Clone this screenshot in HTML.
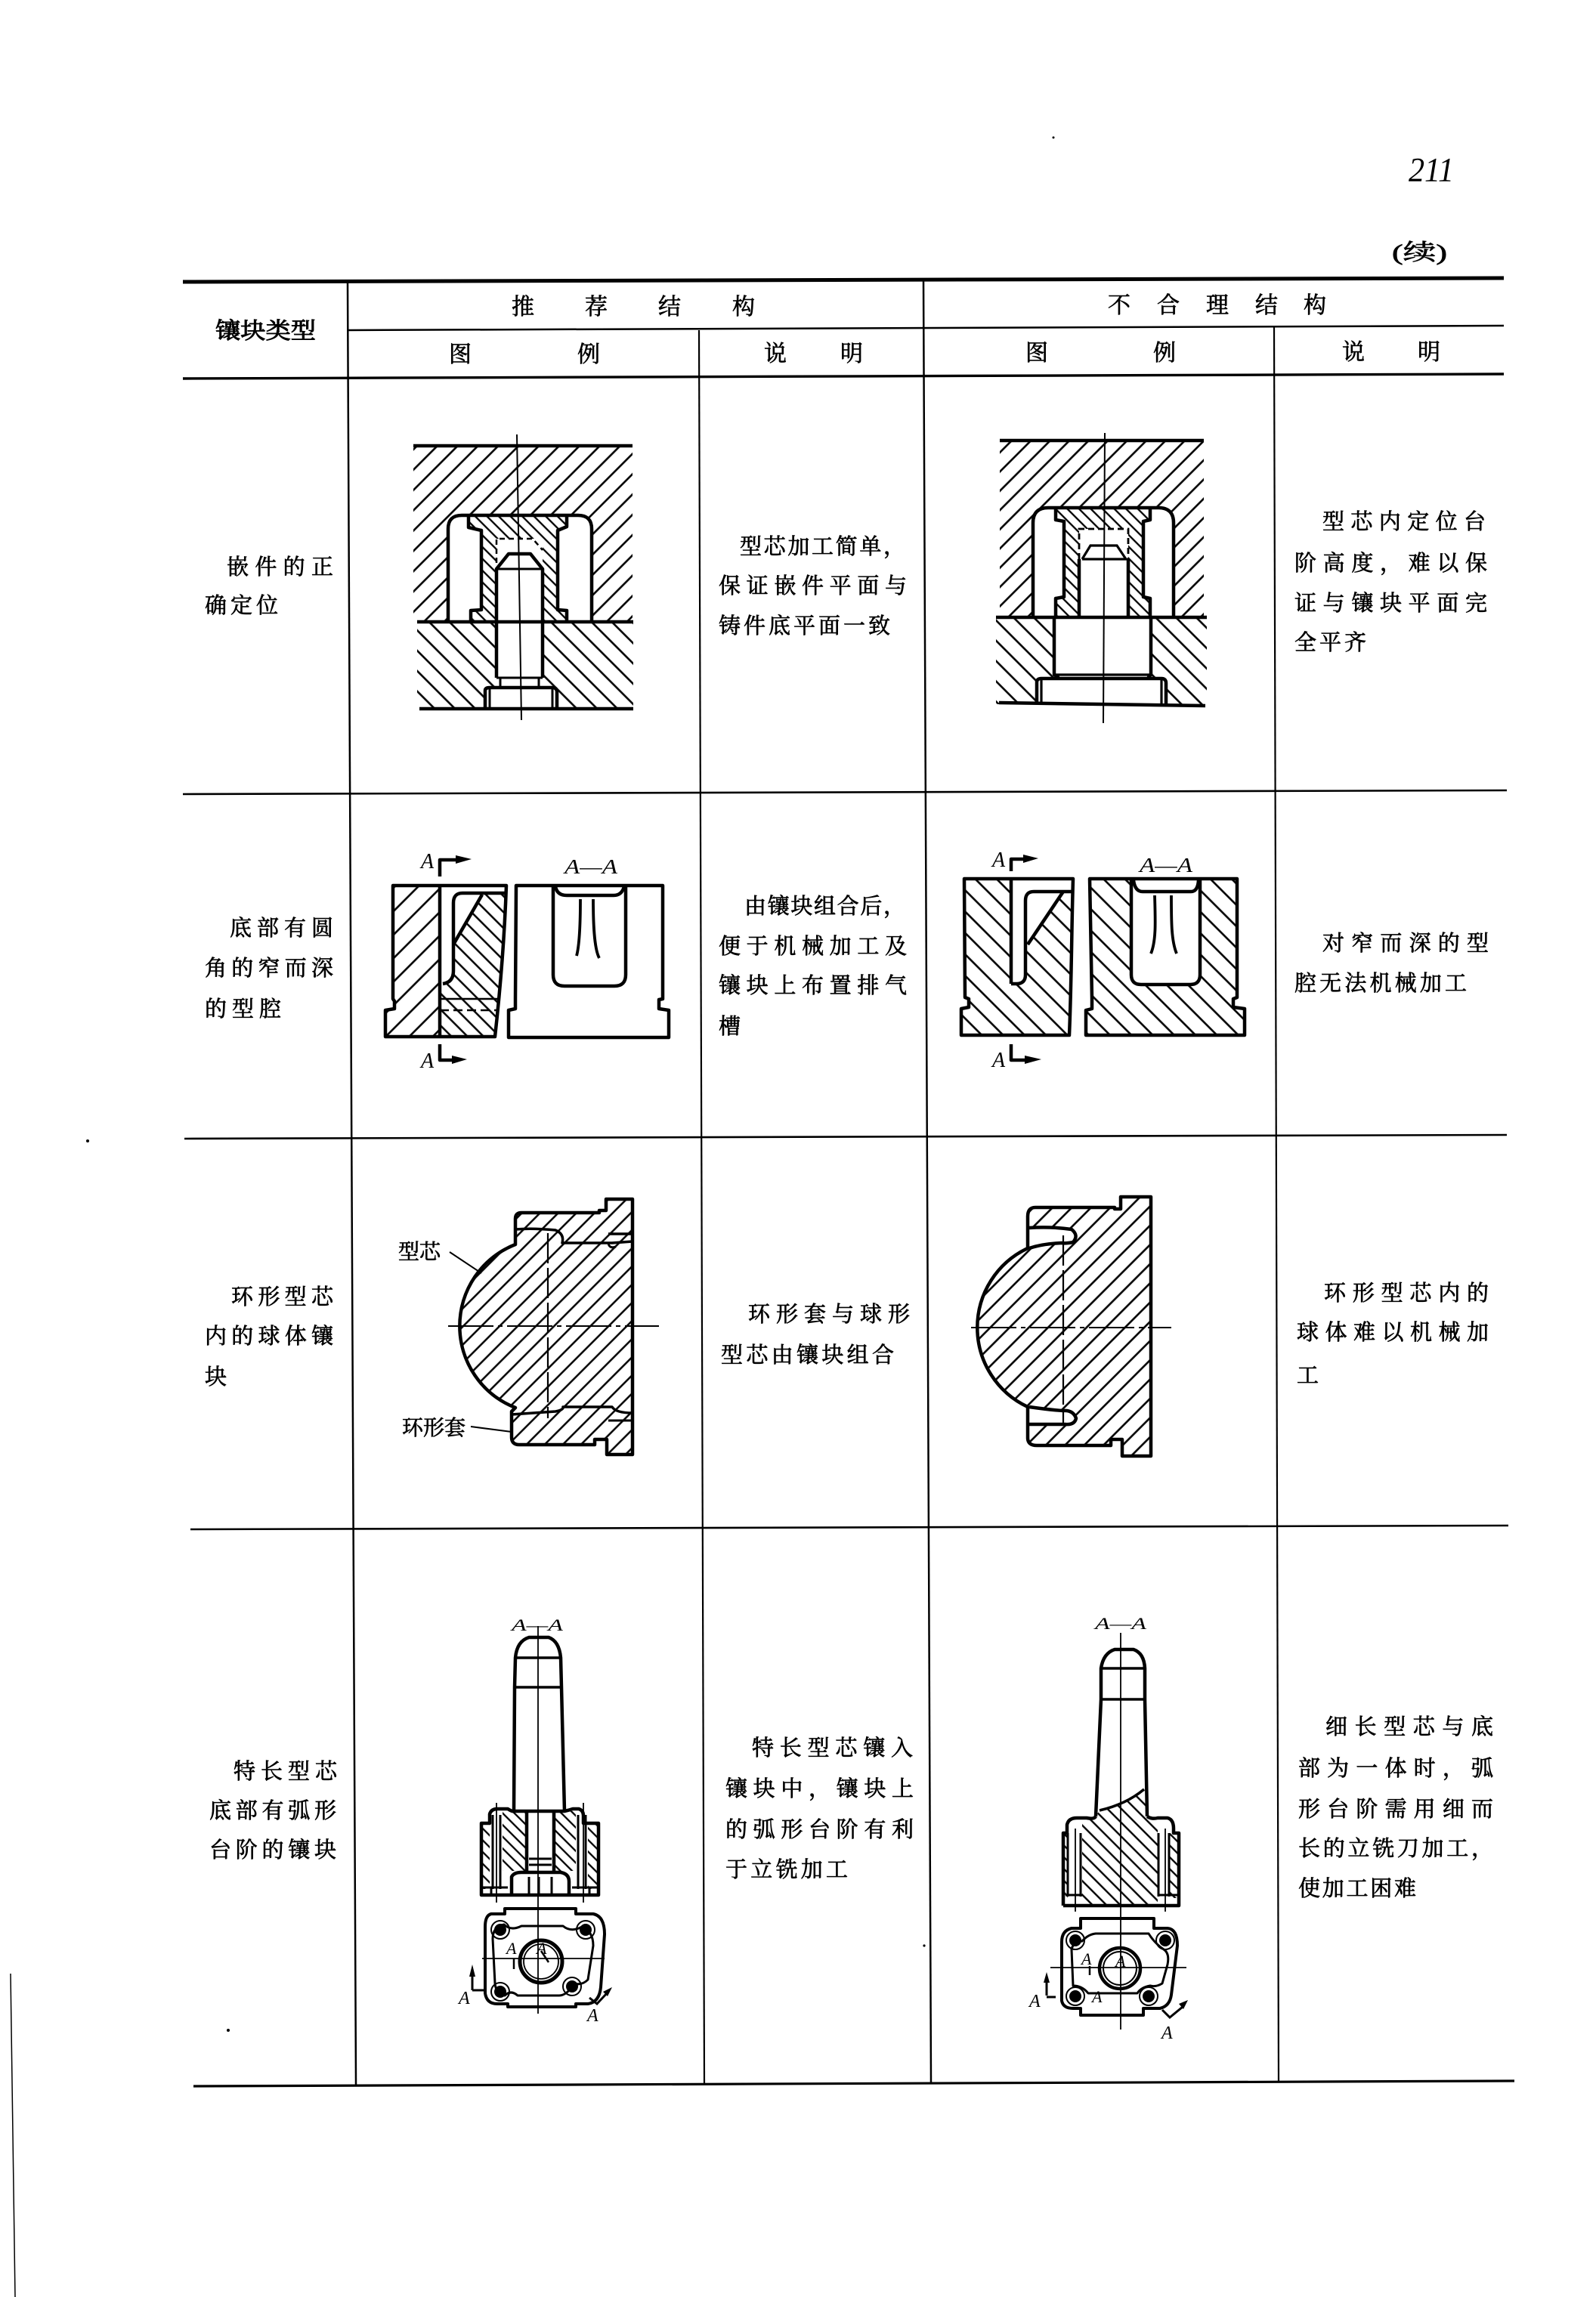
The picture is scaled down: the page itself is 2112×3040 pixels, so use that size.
<!DOCTYPE html>
<html><head><meta charset="utf-8"><style>
html,body{margin:0;padding:0;background:#fff;}
svg{display:block;}
.cj{font-family:"Liberation Serif","Noto Serif CJK SC",serif;fill:#000;stroke:#000;stroke-width:0.7;}
.it{font-family:"Liberation Serif",serif;font-style:italic;fill:#000;}
</style></head><body>
<svg xmlns="http://www.w3.org/2000/svg" width="2112" height="3040" viewBox="0 0 2112 3040">
<defs>
<pattern id="ps19" patternUnits="userSpaceOnUse" width="19" height="19" patternTransform="rotate(45)"><line x1="9.5" y1="-2" x2="9.5" y2="21" stroke="#000" stroke-width="2.6"/></pattern>
<pattern id="pb19" patternUnits="userSpaceOnUse" width="19" height="19" patternTransform="rotate(-45)"><line x1="9.5" y1="-2" x2="9.5" y2="21" stroke="#000" stroke-width="2.6"/></pattern>
<pattern id="ps18" patternUnits="userSpaceOnUse" width="18" height="18" patternTransform="rotate(45)"><line x1="9" y1="-2" x2="9" y2="20" stroke="#000" stroke-width="2.6"/></pattern>
<pattern id="pb11" patternUnits="userSpaceOnUse" width="11" height="11" patternTransform="rotate(-45)"><line x1="5.5" y1="-2" x2="5.5" y2="13" stroke="#000" stroke-width="2.3"/></pattern>
<pattern id="ps22" patternUnits="userSpaceOnUse" width="22" height="22" patternTransform="rotate(45)"><line x1="11" y1="-2" x2="11" y2="24" stroke="#000" stroke-width="2.6"/></pattern>
<pattern id="pb15" patternUnits="userSpaceOnUse" width="15" height="15" patternTransform="rotate(-45)"><line x1="7.5" y1="-2" x2="7.5" y2="17" stroke="#000" stroke-width="2.5"/></pattern>
<pattern id="pb20" patternUnits="userSpaceOnUse" width="20" height="20" patternTransform="rotate(-45)"><line x1="10" y1="-2" x2="10" y2="22" stroke="#000" stroke-width="2.6"/></pattern>
<pattern id="ps17" patternUnits="userSpaceOnUse" width="17" height="17" patternTransform="rotate(45)"><line x1="8.5" y1="-2" x2="8.5" y2="19" stroke="#000" stroke-width="2.5"/></pattern>
<pattern id="pb13" patternUnits="userSpaceOnUse" width="13" height="13" patternTransform="rotate(-45)"><line x1="6.5" y1="-2" x2="6.5" y2="15" stroke="#000" stroke-width="2.4"/></pattern>
</defs>
<rect width="2112" height="3040" fill="#fff"/>

<!-- page number & continued -->
<text class="it" x="1864" y="240" font-size="46" textLength="60" lengthAdjust="spacingAndGlyphs">211</text>
<text class="cj" x="1842" y="344" font-size="30" textLength="73" lengthAdjust="spacingAndGlyphs">(续)</text>

<!-- table lines -->
<g stroke="#000" fill="none">
<line x1="242" y1="373" x2="1990" y2="368" stroke-width="5"/>
<line x1="460" y1="373" x2="471" y2="2760" stroke-width="2.5"/>
<line x1="1222" y1="370" x2="1232" y2="2757" stroke-width="2.5"/>
<line x1="925" y1="437" x2="932" y2="2758" stroke-width="2.2"/>
<line x1="1686" y1="432" x2="1692" y2="2756" stroke-width="2.2"/>
<line x1="460" y1="437" x2="1990" y2="431" stroke-width="2.5"/>
<line x1="242" y1="501" x2="1990" y2="495" stroke-width="3.4"/>
<line x1="242" y1="1051" x2="1994" y2="1046" stroke-width="2.6"/>
<line x1="244" y1="1507" x2="1994" y2="1502" stroke-width="2.6"/>
<line x1="252" y1="2024" x2="1996" y2="2019" stroke-width="2.6"/>
<line x1="256" y1="2761" x2="2004" y2="2754" stroke-width="3.2"/>
<line x1="14" y1="2612" x2="20" y2="3040" stroke-width="1.5"/>
</g>
<circle cx="116" cy="1510" r="2" fill="#000"/>
<circle cx="302" cy="2687" r="2" fill="#000"/>
<circle cx="1223" cy="2575" r="1.6" fill="#000"/>
<circle cx="1394" cy="182" r="1.5" fill="#000"/>

<!-- header text -->
<text class="cj" x="285" y="448" font-size="30" textLength="133" lengthAdjust="spacingAndGlyphs" style="stroke-width:1">镶块类型</text>
<g class="cj" font-size="30" text-anchor="middle">
<text x="692" y="416">推</text><text x="789" y="416">荐</text><text x="886" y="416">结</text><text x="984" y="416">构</text>
<text x="1481" y="414">不</text><text x="1546" y="414">合</text><text x="1611" y="414">理</text><text x="1676" y="414">结</text><text x="1740" y="414">构</text>
<text x="609" y="479">图</text><text x="779" y="479">例</text><text x="1026" y="478">说</text><text x="1127" y="478">明</text>
<text x="1372" y="477">图</text><text x="1541" y="477">例</text><text x="1791" y="476">说</text><text x="1891" y="476">明</text>
</g>

<!-- left column text -->
<g class="cj" font-size="29">
<text x="300" y="760" textLength="141" lengthAdjust="spacing">嵌件的正</text>
<text x="271" y="811" textLength="97" lengthAdjust="spacing">确定位</text>
<text x="304" y="1238" textLength="137" lengthAdjust="spacing">底部有圆</text>
<text x="271" y="1291" textLength="170" lengthAdjust="spacing">角的窄而深</text>
<text x="271" y="1345" textLength="101" lengthAdjust="spacing">的型腔</text>
<text x="306" y="1726" textLength="135" lengthAdjust="spacing">环形型芯</text>
<text x="271" y="1778" textLength="170" lengthAdjust="spacing">内的球体镶</text>
<text x="271" y="1832">块</text>
<text x="309" y="2354" textLength="137" lengthAdjust="spacing">特长型芯</text>
<text x="277" y="2406" textLength="168" lengthAdjust="spacing">底部有弧形</text>
<text x="277" y="2458" textLength="168" lengthAdjust="spacing">台阶的镶块</text>
</g>

<!-- recommended description -->
<g class="cj" font-size="29">
<text x="979" y="733" textLength="219" lengthAdjust="spacing">型芯加工简单，</text>
<text x="951" y="785" textLength="249" lengthAdjust="spacing">保证嵌件平面与</text>
<text x="951" y="838" textLength="227" lengthAdjust="spacing">铸件底平面一致</text>
<text x="985" y="1209" textLength="213" lengthAdjust="spacing">由镶块组合后，</text>
<text x="951" y="1262" textLength="249" lengthAdjust="spacing">便于机械加工及</text>
<text x="951" y="1314" textLength="249" lengthAdjust="spacing">镶块上布置排气</text>
<text x="951" y="1368">槽</text>
<text x="990" y="1749" textLength="214" lengthAdjust="spacing">环形套与球形</text>
<text x="954" y="1803" textLength="229" lengthAdjust="spacing">型芯由镶块组合</text>
<text x="995" y="2323" textLength="213" lengthAdjust="spacing">特长型芯镶入</text>
<text x="960" y="2377" textLength="249" lengthAdjust="spacing">镶块中，镶块上</text>
<text x="960" y="2431" textLength="249" lengthAdjust="spacing">的弧形台阶有利</text>
<text x="960" y="2484" textLength="162" lengthAdjust="spacing">于立铣加工</text>
</g>

<!-- unreasonable description -->
<g class="cj" font-size="29">
<text x="1750" y="700" textLength="216" lengthAdjust="spacing">型芯内定位台</text>
<text x="1713" y="755" textLength="255" lengthAdjust="spacing">阶高度，难以保</text>
<text x="1713" y="808" textLength="255" lengthAdjust="spacing">证与镶块平面完</text>
<text x="1713" y="860" textLength="95" lengthAdjust="spacing">全平齐</text>
<text x="1750" y="1258" textLength="220" lengthAdjust="spacing">对窄而深的型</text>
<text x="1713" y="1311" textLength="228" lengthAdjust="spacing">腔无法机械加工</text>
<text x="1752" y="1721" textLength="218" lengthAdjust="spacing">环形型芯内的</text>
<text x="1716" y="1773" textLength="254" lengthAdjust="spacing">球体难以机械加</text>
<text x="1716" y="1830">工</text>
<text x="1754" y="2295" textLength="222" lengthAdjust="spacing">细长型芯与底</text>
<text x="1718" y="2350" textLength="258" lengthAdjust="spacing">部为一体时，弧</text>
<text x="1718" y="2404" textLength="258" lengthAdjust="spacing">形台阶需用细而</text>
<text x="1718" y="2456" textLength="258" lengthAdjust="spacing">长的立铣刀加工，</text>
<text x="1718" y="2509" textLength="156" lengthAdjust="spacing">使加工困难</text>
</g>

<!-- ===== Row 1 left ===== -->
<path d="M547,590 H837 V823 H547 Z M593,823 V700 Q593,682 611,682 H765 Q783,682 783,700 V823 Z" fill="url(#ps19)" fill-rule="evenodd"/>
<path d="M552,823 H838 V938 H552 Z M657,823 V910 H642 V938 H737 V910 H718 V823 Z" fill="url(#pb19)" fill-rule="evenodd"/>
<path d="M620,683 H750 V697 L738,702 V807 L750,808 V823 H718 V713 H657 V823 H623 V808 L637,807 V702 L620,698 Z" fill="url(#pb11)"/>
<g stroke="#000" fill="none" stroke-width="4.5" stroke-linejoin="round">
<path d="M547,590 H837"/><path d="M552,823 H838"/><path d="M555,938 H838"/>
<path d="M593,823 V700 Q593,682 611,682 H765 Q783,682 783,700 V823"/>
<path d="M620,683 V698 L637,702 V807 L623,808 V823"/>
<path d="M750,683 V697 L738,702 V807 L750,808 V823"/>
<path d="M657,897 V753 L673,733 H702 L718,753 V897"/>
<path d="M642,938 V914 Q642,910 648,910 H731 Q737,910 737,916 V938"/>
</g>
<g stroke="#000" fill="none" stroke-width="3">
<path d="M657,753 H718"/><path d="M657,897 H718"/><path d="M662,897 V910 M713,897 V910"/>
<path d="M648,912 V938 M731,912 V938"/>
</g>
<path d="M657,745 V713 H705 L718,728" stroke="#000" fill="none" stroke-width="2.5" stroke-dasharray="7 5"/>
<path d="M684,575 L690,953" stroke="#000" stroke-width="2"/>

<!-- ===== Row 1 right ===== -->
<path d="M1323,583 H1593 V817 H1323 Z M1367,817 V692 Q1367,672 1387,672 H1533 Q1553,672 1553,692 V817 Z" fill="url(#ps18)" fill-rule="evenodd"/>
<path d="M1318,817 H1597 V932 H1318 Z M1395,817 V893 H1400 V898 H1372 V932 H1543 V898 H1520 V893 H1523 V817 Z" fill="url(#pb19)" fill-rule="evenodd"/>
<path d="M1397,673 H1522 V688 L1513,690 V790 L1522,792 V817 H1493 V700 H1428 V817 H1397 V792 L1408,790 V690 L1397,688 Z" fill="url(#pb11)"/>
<g stroke="#000" fill="none" stroke-width="4.5" stroke-linejoin="round">
<path d="M1323,583 H1593"/><path d="M1318,817 H1597"/><path d="M1322,930 L1595,934"/>
<path d="M1367,817 V692 Q1367,672 1387,672 H1533 Q1553,672 1553,692 V817"/>
<path d="M1397,673 V688 L1408,690 V790 L1397,792 V817"/>
<path d="M1522,673 V688 L1513,690 V790 L1522,792 V817"/>
<path d="M1428,817 V740 M1493,740 V817"/>
<path d="M1395,817 V893 L1400,896 V898 M1523,817 V893 L1520,896 V898"/>
<path d="M1372,932 V903 Q1372,898 1378,898 H1537 Q1543,898 1543,904 V932"/>
</g>
<g stroke="#000" fill="none" stroke-width="3.2">
<path d="M1432,740 L1443,722 H1478 L1490,740 H1432"/><path d="M1395,893 H1523"/>
<path d="M1378,900 V932 M1537,900 V932"/>
</g>
<path d="M1428,740 V700 H1493 V740" stroke="#000" fill="none" stroke-width="2.8" stroke-dasharray="8 5"/>
<path d="M1462,573 L1460,957" stroke="#000" stroke-width="2"/>

<!-- ===== Row 2 left ===== -->
<path d="M520,1172 H582 V1372 H510 V1337 L522,1335 V1325 L520,1322 Z" fill="url(#ps22)"/>
<path d="M638,1184 L668,1182 C666,1230 662,1300 655,1372 H582 V1302 Q596,1300 600,1285 V1250 Z" fill="url(#pb15)"/>
<g stroke="#000" fill="none" stroke-width="4.5" stroke-linejoin="round">
<path d="M520,1172 H670 C668,1230 663,1300 655,1372 H510 V1337 L522,1335 V1325 L520,1322 Z"/>
<path d="M582,1172 V1372"/>
<path d="M668,1182 H612 Q600,1182 600,1195 V1285 Q600,1300 586,1302"/>
<path d="M638,1184 L600,1250"/>
<path d="M582,1160 V1138 H605"/><path d="M582,1382 V1403 H600"/>
</g>
<path d="M582,1322 H660" stroke="#000" stroke-width="2.5"/>
<path d="M582,1337 H658" stroke="#000" stroke-width="2.5" stroke-dasharray="12 6"/>
<polygon points="603,1132 624,1137 603,1143" fill="#000"/>
<polygon points="598,1397 618,1402 598,1408" fill="#000"/>
<text class="it" x="557" y="1149" font-size="28">A</text>
<text class="it" x="557" y="1413" font-size="28">A</text>
<g stroke="#000" fill="none" stroke-width="4.5" stroke-linejoin="round">
<path d="M683,1172 H877 V1322 L872,1323 V1335 L885,1337 V1373 H673 V1337 L682,1335 V1322 Z"/>
<path d="M732,1172 V1290 Q732,1305 747,1305 H813 Q828,1305 828,1290 V1172"/>
<path d="M735,1173 Q737,1185 750,1185 H812 Q823,1185 826,1173"/>
<path d="M768,1190 C768,1220 767,1250 763,1265" stroke-width="3.8"/>
<path d="M785,1190 C785,1220 786,1255 793,1268" stroke-width="3.8"/>
</g>
<text class="it" x="747" y="1156" font-size="27" textLength="70" lengthAdjust="spacingAndGlyphs">A—A</text>

<!-- ===== Row 2 right ===== -->
<path d="M1276,1163 H1420 C1418,1230 1418,1300 1415,1370 H1272 V1335 L1282,1333 V1322 L1277,1320 Z M1338,1163 H1420 V1180 H1407 L1358,1252 V1290 Q1357,1302 1346,1302 H1338 Z" fill="url(#pb20)" fill-rule="evenodd"/>
<path d="M1442,1163 H1637 V1320 L1632,1322 V1333 L1647,1335 V1370 H1437 V1337 L1445,1335 V1322 Z M1497,1163 V1290 Q1497,1303 1510,1303 H1575 Q1588,1303 1588,1290 V1163 Z" fill="url(#pb20)" fill-rule="evenodd"/>
<g stroke="#000" fill="none" stroke-width="4.5" stroke-linejoin="round">
<path d="M1276,1163 H1420 C1418,1230 1418,1300 1415,1370 H1272 V1335 L1282,1333 V1322 L1277,1320 Z"/>
<path d="M1338,1163 V1302"/>
<path d="M1420,1180 H1368 Q1357,1180 1357,1192 V1290 Q1357,1302 1345,1302 H1338"/>
<path d="M1407,1180 L1360,1250"/>
<path d="M1442,1163 H1637 V1320 L1632,1322 V1333 L1647,1335 V1370 H1437 V1337 L1445,1335 V1322 Z"/>
<path d="M1497,1163 V1290 Q1497,1303 1510,1303 H1575 Q1588,1303 1588,1290 V1163"/>
<path d="M1500,1165 Q1502,1180 1512,1180 H1576 Q1585,1180 1586,1165"/>
<path d="M1528,1185 C1529,1220 1530,1245 1523,1262" stroke-width="3.8"/>
<path d="M1550,1185 C1550,1220 1550,1245 1557,1262" stroke-width="3.8"/>
<path d="M1338,1153 V1137 H1356"/><path d="M1338,1382 V1403 H1358"/>
</g>
<polygon points="1354,1131 1374,1136 1354,1142" fill="#000"/>
<polygon points="1356,1397 1378,1402 1356,1408" fill="#000"/>
<text class="it" x="1313" y="1147" font-size="28">A</text>
<text class="it" x="1313" y="1412" font-size="28">A</text>
<text class="it" x="1508" y="1154" font-size="27" textLength="70" lengthAdjust="spacingAndGlyphs">A—A</text>

<!-- ===== Row 3 left ===== -->
<path d="M837,1587 H802 V1602 H793 V1605 H690 Q682,1605 682,1613 V1647 A116,116 0 0 0 682,1863 L677,1868 V1902 Q677,1912 687,1912 H787 V1905 H803 V1925 H837 Z" fill="url(#ps17)"/>
<g stroke="#000" fill="none" stroke-width="4.5" stroke-linejoin="round">
<path d="M837,1587 H802 V1602 H793 V1605 H690 Q682,1605 682,1613 V1647 A116,116 0 0 0 682,1863 L677,1868 V1902 Q677,1912 687,1912 H787 V1905 H803 V1925 H837 Z"/>
<path d="M682,1627 Q705,1625 735,1628 Q747,1633 744,1645 H810 L837,1643" stroke-width="3.5"/>
<path d="M805,1633 H837" stroke-width="3.5"/>
<path d="M805,1645 Q806,1653 815,1650" stroke-width="3"/>
<path d="M677,1872 Q705,1870 735,1868 Q746,1866 745,1862 H810 Q815,1870 837,1870" stroke-width="3.5"/>
<path d="M805,1880 H837" stroke-width="3"/>
</g>
<path d="M725,1632 V1877" stroke="#000" stroke-width="2.2" stroke-dasharray="40 6"/>
<path d="M593,1755 H872" stroke="#000" stroke-width="2" stroke-dasharray="60 6 6 6"/>
<text class="cj" x="527" y="1666" font-size="28">型芯</text>
<text class="cj" x="532" y="1899" font-size="28">环形套</text>
<path d="M595,1657 L637,1685 M623,1888 L677,1895" stroke="#000" stroke-width="2"/>

<!-- ===== Row 3 right ===== -->
<path d="M1523,1584 H1483 V1600 H1475 V1598 H1370 Q1360,1598 1360,1610 V1652 A116,116 0 0 0 1360,1862 V1903 Q1360,1913 1372,1913 H1470 V1905 H1485 V1927 H1523 Z M1362,1625 Q1390,1623 1418,1627 Q1428,1635 1420,1644 Q1410,1646 1405,1645 Q1380,1646 1362,1652 Z M1362,1862 Q1390,1866 1407,1867 Q1420,1866 1424,1877 Q1422,1886 1410,1885 Q1390,1885 1362,1885 Z" fill="url(#ps18)" fill-rule="evenodd"/>
<g stroke="#000" fill="none" stroke-width="4.5" stroke-linejoin="round">
<path d="M1523,1584 H1483 V1600 H1475 V1598 H1370 Q1360,1598 1360,1610 V1652 A116,116 0 0 0 1360,1862 V1903 Q1360,1913 1372,1913 H1470 V1905 H1485 V1927 H1523 Z"/>
<path d="M1362,1625 Q1390,1623 1418,1627 Q1428,1635 1420,1644 Q1410,1646 1405,1645 Q1380,1646 1362,1652"/>
<path d="M1362,1862 Q1390,1866 1407,1867 Q1420,1866 1424,1877 Q1422,1886 1410,1885 Q1390,1885 1362,1885"/>
</g>
<path d="M1407,1635 V1883" stroke="#000" stroke-width="2.2" stroke-dasharray="40 6"/>
<path d="M1285,1757 H1550" stroke="#000" stroke-width="2" stroke-dasharray="60 6 6 6"/>

<!-- ===== Row 4 left ===== -->
<text class="it" x="677" y="2158" font-size="22" textLength="68" lengthAdjust="spacingAndGlyphs">A—A</text>
<path d="M638,2413 H648 V2500 H638 Z M665,2397 H697 V2476 H665 Z M733,2397 H762 V2476 H733 Z M778,2413 H790 V2500 H778 Z" fill="url(#pb11)"/>
<g stroke="#000" fill="none" stroke-width="4.5" stroke-linejoin="round">
<path d="M680,2397 L681,2233 L682,2194 Q684,2172 700,2167 H726 Q740,2172 742,2194 L743,2233 L747,2397"/>
<path d="M682,2194 H742 M681,2233 H743" stroke-width="3.5"/>
<path d="M637,2413 H648 V2401 Q650,2394 658,2394 H672 Q678,2398 680,2397 H747 Q752,2396 758,2394 H766 Q772,2396 772,2403 V2413 H792 V2508 H637 Z"/>
<path d="M697,2397 V2476 M733,2397 V2476"/>
<path d="M677,2506 V2484 Q680,2478 690,2478 H742 Q753,2480 753,2490 V2506"/>
</g>
<g stroke="#000" fill="none" stroke-width="3">
<path d="M652,2402 V2500 M662,2402 V2500 M765,2402 V2500 M775,2402 V2500"/>
<path d="M700,2460 H730 M700,2468 H730"/>
<path d="M700,2484 V2506 M713,2484 V2506 M730,2484 V2506"/>
<path d="M638,2498 H672 M757,2498 H790 M650,2498 V2508 M780,2498 V2508"/>
</g>
<path d="M657,2386 V2518 M772,2386 V2518 M712,2152 V2665" stroke="#000" stroke-width="1.8"/>
<g stroke="#000" fill="none" stroke-width="4" stroke-linejoin="round">
<path d="M650,2533 Q642,2535 642,2550 V2638 Q644,2652 658,2652 H672 V2656 H762 V2652 H778 Q793,2650 795,2630 L800,2560 Q800,2536 785,2533 H762 V2526 H668 V2533 Z"/>
<path d="M652,2566 Q652,2550 667,2547 Q676,2556 690,2549 H745 Q756,2558 770,2550 Q785,2556 785,2575 L778,2620 Q770,2628 760,2625 Q750,2641 740,2641 H685 Q676,2633 668,2641 Q656,2638 655,2625 Z" stroke-width="3"/>
</g>
<circle cx="716" cy="2596" r="28" fill="none" stroke="#000" stroke-width="5"/>
<circle cx="716" cy="2596" r="23" fill="none" stroke="#000" stroke-width="1.8"/>
<path d="M638,2592 H800" stroke="#000" stroke-width="1.8"/>
<g fill="#000">
<circle cx="662" cy="2554" r="8"/><circle cx="775" cy="2554" r="8"/><circle cx="662" cy="2636" r="8"/><circle cx="757" cy="2629" r="8"/>
</g>
<g fill="none" stroke="#000" stroke-width="2">
<circle cx="662" cy="2554" r="12"/><circle cx="775" cy="2554" r="12"/><circle cx="662" cy="2636" r="12"/><circle cx="757" cy="2629" r="12"/>
</g>
<text class="it" x="670" y="2586" font-size="22">A</text>
<text class="it" x="710" y="2586" font-size="22">A</text>
<path d="M716,2582 L726,2597 M680,2592 V2606" stroke="#000" stroke-width="2.5"/>
<text class="it" x="607" y="2652" font-size="24">A</text>
<path d="M625,2634 V2612 M625,2634 H642" stroke="#000" stroke-width="3" fill="none"/>
<polygon points="621,2616 625,2600 629,2616" fill="#000"/>
<text class="it" x="777" y="2675" font-size="24">A</text>
<path d="M780,2644 L790,2652 L803,2638" stroke="#000" stroke-width="3" fill="none"/>
<polygon points="798,2636 810,2630 804,2642" fill="#000"/>

<!-- ===== Row 4 right ===== -->
<text class="it" x="1449" y="2156" font-size="22" textLength="68" lengthAdjust="spacingAndGlyphs">A—A</text>
<path d="M1455,2396 Q1490,2388 1514,2368 L1518,2404 Q1522,2408 1532,2410 V2522 H1432 V2410 Q1448,2408 1450,2404 Z" fill="url(#pb13)"/>
<path d="M1407,2426 H1413 V2512 H1407 Z M1547,2426 H1560 V2512 H1547 Z" fill="url(#pb11)"/>
<g stroke="#000" fill="none" stroke-width="4.5" stroke-linejoin="round">
<path d="M1450,2404 L1457,2249 V2208 Q1460,2188 1475,2183 H1500 Q1514,2188 1515,2208 V2249 L1518,2404"/>
<path d="M1457,2208 H1515 M1457,2249 H1515" stroke-width="3.5"/>
<path d="M1455,2396 Q1490,2388 1514,2368" stroke-width="3.5"/>
<path d="M1407,2522 V2426 H1412 V2415 Q1414,2406 1425,2406 H1438 Q1448,2408 1450,2404 M1518,2404 Q1524,2408 1532,2406 H1545 Q1553,2408 1553,2420 V2426 H1560 V2522 H1407"/>
</g>
<g stroke="#000" fill="none" stroke-width="3">
<path d="M1413,2426 V2510 M1430,2426 V2510 M1533,2426 V2510 M1547,2426 V2510"/>
<path d="M1410,2508 H1432 M1533,2508 H1558"/>
</g>
<path d="M1423,2420 V2530 M1542,2420 V2530 M1483,2161 V2686" stroke="#000" stroke-width="1.8"/>
<g stroke="#000" fill="none" stroke-width="4" stroke-linejoin="round">
<path d="M1418,2552 Q1405,2555 1405,2570 V2648 Q1407,2658 1420,2658 H1430 V2667 H1513 V2658 H1535 Q1548,2655 1550,2640 L1558,2575 Q1558,2553 1545,2552 H1527 V2539 H1430 V2552 Z"/>
<path d="M1418,2580 Q1420,2570 1432,2569 Q1440,2560 1450,2559 H1520 Q1528,2572 1540,2580 Q1548,2585 1545,2600 L1538,2625 Q1530,2630 1522,2628 Q1510,2630 1505,2638 H1440 Q1432,2628 1420,2628 Z" stroke-width="3"/>
</g>
<circle cx="1482" cy="2605" r="27" fill="none" stroke="#000" stroke-width="4.5"/>
<circle cx="1482" cy="2605" r="22" fill="none" stroke="#000" stroke-width="2"/>
<path d="M1390,2604 H1570" stroke="#000" stroke-width="1.8"/>
<g fill="#000">
<circle cx="1423" cy="2568" r="8"/><circle cx="1542" cy="2568" r="8"/><circle cx="1423" cy="2642" r="8"/><circle cx="1520" cy="2642" r="8"/>
</g>
<g fill="none" stroke="#000" stroke-width="2">
<circle cx="1423" cy="2568" r="12"/><circle cx="1542" cy="2568" r="12"/><circle cx="1423" cy="2642" r="12"/><circle cx="1520" cy="2642" r="12"/>
</g>
<text class="it" x="1431" y="2600" font-size="22">A</text>
<text class="it" x="1476" y="2603" font-size="22">A</text>
<text class="it" x="1445" y="2650" font-size="22">A</text>
<path d="M1442,2602 V2614" stroke="#000" stroke-width="2.5"/>
<text class="it" x="1362" y="2656" font-size="24">A</text>
<path d="M1385,2641 V2620 M1385,2643 H1397" stroke="#000" stroke-width="3" fill="none"/>
<polygon points="1381,2624 1385,2610 1389,2624" fill="#000"/>
<text class="it" x="1537" y="2698" font-size="24">A</text>
<path d="M1538,2660 L1548,2670 L1565,2656" stroke="#000" stroke-width="3" fill="none"/>
<polygon points="1560,2652 1572,2647 1566,2659" fill="#000"/>
</svg>
</body></html>
